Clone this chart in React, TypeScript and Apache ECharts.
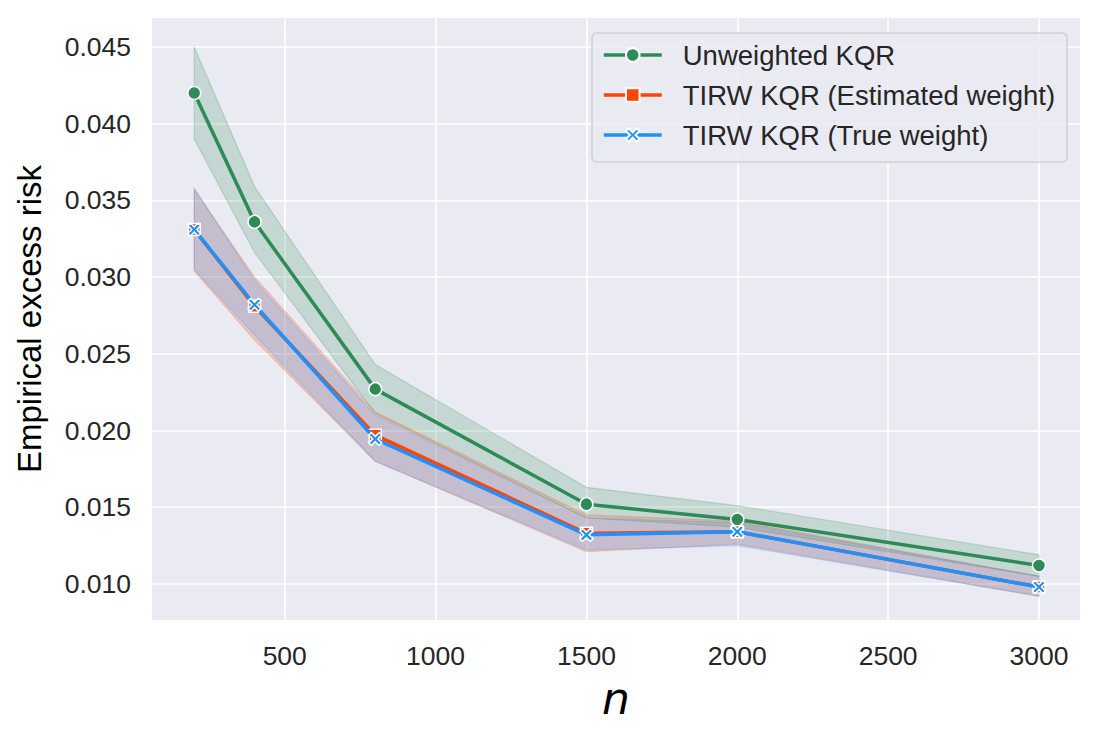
import React, { useEffect, useRef } from "react";
import * as echarts from "echarts";

const nValues = [200, 400, 800, 1500, 2000, 3000];

const unweighted = [0.042, 0.0336, 0.0227, 0.0152, 0.0142, 0.0112];
const unweightedLow = [0.039, 0.0316, 0.0211, 0.0143, 0.0137, 0.0105];
const unweightedHigh = [0.045, 0.0359, 0.0243, 0.0163, 0.0151, 0.0119];

const estimated = [0.0331, 0.0281, 0.0197, 0.0133, 0.0134, 0.0098];
const estimatedLow = [0.0304, 0.0259, 0.018, 0.0121, 0.0126, 0.0092];
const estimatedHigh = [0.0357, 0.03, 0.0212, 0.0145, 0.0141, 0.0105];

const trueW = [0.0331, 0.0282, 0.01945, 0.0132, 0.0134, 0.0098];
const trueLow = [0.0305, 0.0262, 0.018, 0.0122, 0.0125, 0.0092];
const trueHigh = [0.0358, 0.0298, 0.021, 0.0143, 0.014, 0.0105];

const xTicks = [500, 1000, 1500, 2000, 2500, 3000];
const yTicks = [0.01, 0.015, 0.02, 0.025, 0.03, 0.035, 0.04, 0.045];

const seriesNames = [
  "Unweighted KQR",
  "TIRW KQR (Estimated weight)",
  "TIRW KQR (True weight)",
];

const FONT = "'Liberation Sans', Arial, sans-serif";
const TEXT = "#262626";
const X_PATH =
  "path://M0,2 L2,0 L5,3 L8,0 L10,2 L7,5 L10,8 L8,10 L5,7 L2,10 L0,8 L3,5 Z";

function pairs(ys: number[]) {
  return nValues.map((x, i) => [x, ys[i]]);
}

function band(name: string, low: number[], high: number[], rgb: string) {
  return {
    type: "custom",
    name,
    silent: true,
    z: 1,
    data: nValues.map((x, i) => [x, low[i], high[i]]),
    renderItem: (params: any, api: any) => {
      if (params.dataIndex !== 0) return null;
      const upper = nValues.map((x, i) => api.coord([x, high[i]]));
      const lower = nValues
        .map((x, i) => api.coord([x, low[i]]))
        .reverse();
      return {
        type: "polygon",
        shape: { points: upper.concat(lower) },
        style: {
          fill: `rgba(${rgb},0.2)`,
          stroke: `rgba(${rgb},0.22)`,
          lineWidth: 1.2,
        },
      };
    },
  };
}

function mainLine(
  name: string,
  ys: number[],
  color: string,
  symbol: string,
  size: number,
  z: number
) {
  return {
    type: "line",
    name,
    data: pairs(ys),
    symbol,
    symbolSize: size,
    showAllSymbol: true,
    lineStyle: { width: 3.5, color },
    itemStyle: { color, borderColor: "#ffffff", borderWidth: 1.5 },
    z,
  };
}

export default function App() {
  const ref = useRef<HTMLDivElement>(null);
  useEffect(() => {
    if (!ref.current) return;
    const chart = echarts.init(ref.current, null, { renderer: "svg" });
    chart.setOption({
      animation: false,
      backgroundColor: "#ffffff",
      textStyle: { fontFamily: FONT },
      grid: {
        left: 152,
        right: 21,
        top: 18,
        bottom: 118,
        show: true,
        backgroundColor: "#EAEAF2",
        borderWidth: 0,
      },
      xAxis: {
        type: "value",
        min: 60,
        max: 3136,
        name: "n",
        nameLocation: "middle",
        nameGap: 56,
        nameTextStyle: {
          fontFamily: "'DejaVu Sans', sans-serif",
          fontStyle: "italic",
          fontSize: 44,
          color: "#000000",
        },
        axisLine: { show: false },
        axisTick: { show: false, customValues: xTicks },
        axisLabel: {
          customValues: xTicks,
          fontFamily: FONT,
          fontSize: 26.5,
          color: TEXT,
          margin: 22,
          formatter: (v: number) => String(v),
        },
        splitLine: { show: true, lineStyle: { color: "#ffffff", width: 1.6 } },
      },
      yAxis: {
        type: "value",
        min: 0.00765,
        max: 0.04689,
        name: "Empirical excess risk",
        nameLocation: "middle",
        nameGap: 106,
        nameTextStyle: { fontFamily: FONT, fontSize: 33, color: "#000000" },
        axisLine: { show: false },
        axisTick: { show: false, customValues: yTicks },
        axisLabel: {
          customValues: yTicks,
          fontFamily: FONT,
          fontSize: 26.5,
          color: TEXT,
          margin: 21,
          formatter: (v: number) => v.toFixed(3),
        },
        splitLine: { show: true, lineStyle: { color: "#ffffff", width: 1.6 } },
      },
      legend: {
        data: seriesNames,
        orient: "vertical",
        left: 592,
        top: 33,
        padding: [7, 12, 12, 10],
        itemWidth: 58,
        itemHeight: 17,
        itemGap: 10,
        lineStyle: { width: 3.5 },
        backgroundColor: "rgba(234,234,242,0.85)",
        borderColor: "#cfcfd4",
        borderWidth: 1.5,
        borderRadius: 5,
        textStyle: {
          fontFamily: FONT,
          fontSize: 27.5,
          color: TEXT,
          lineHeight: 30,
          padding: [0, 0, 0, 16],
        },
      },
      series: [
        band("g-band", unweightedLow, unweightedHigh, "46,139,87"),
        band("r-band", estimatedLow, estimatedHigh, "255,69,0"),
        band("b-band", trueLow, trueHigh, "30,144,255"),
        mainLine(seriesNames[0], unweighted, "#2E8B57", "circle", 13, 3),
        mainLine(seriesNames[1], estimated, "#FF4500", "rect", 12, 4),
        mainLine(seriesNames[2], trueW, "#1E90FF", X_PATH, 13, 5),
      ],
    });
    return () => chart.dispose();
  }, []);
  return (
    <div
      ref={ref}
      style={{
        position: "absolute",
        left: 0,
        top: 0,
        width: 1101,
        height: 738,
        background: "#ffffff",
      }}
    />
  );
}
